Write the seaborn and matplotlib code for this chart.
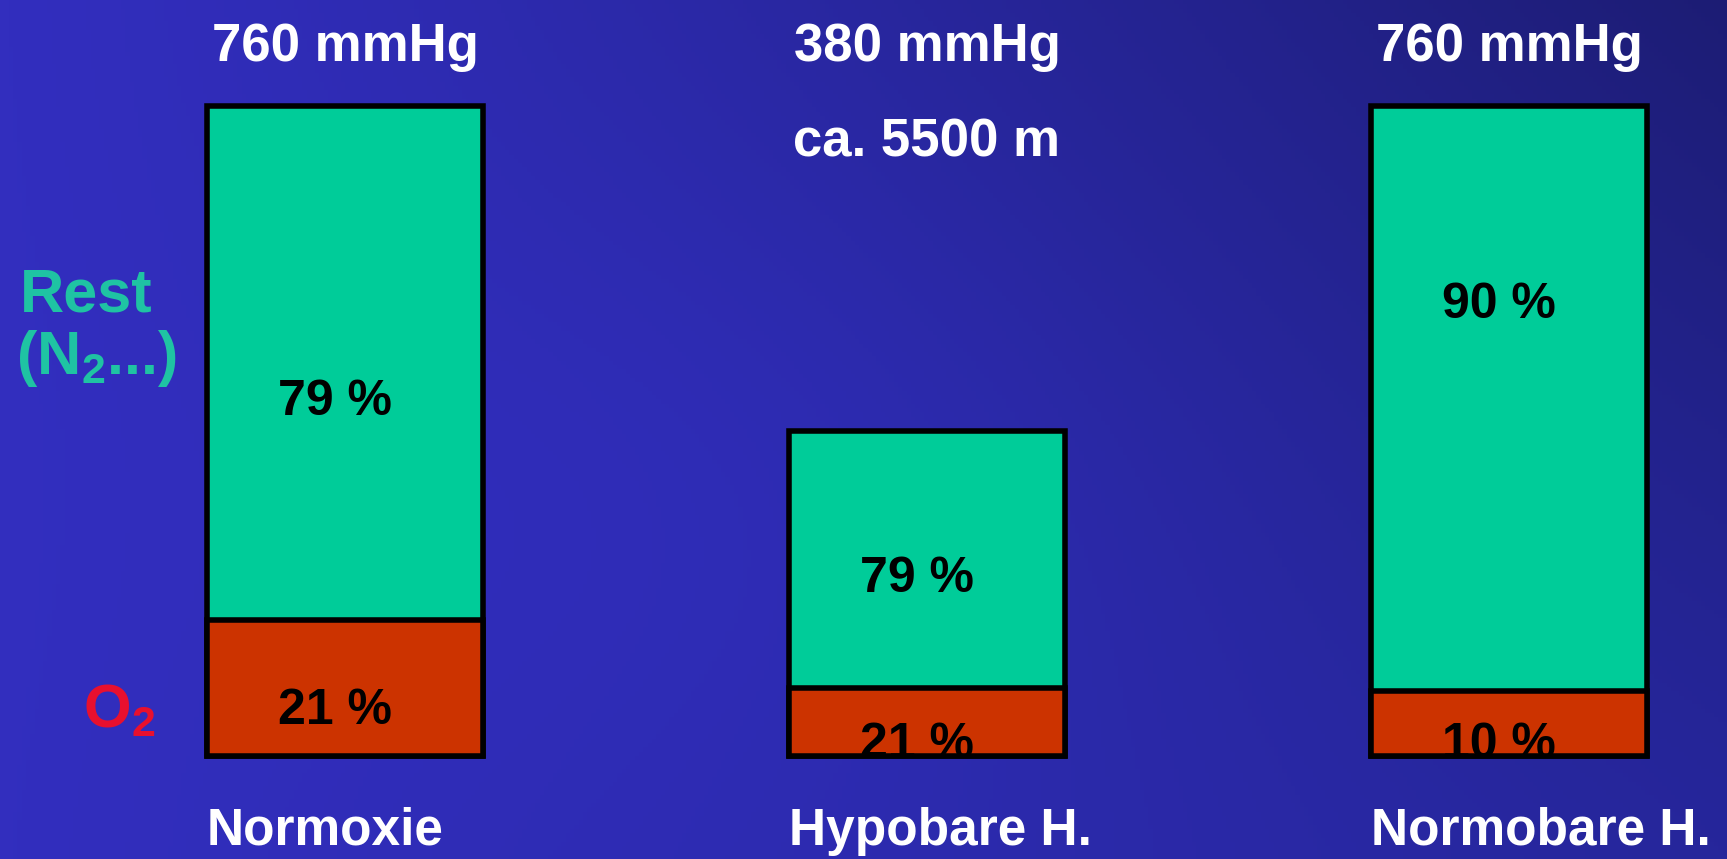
import numpy as np
import pandas as pd
import matplotlib
matplotlib.use("Agg")
import matplotlib.pyplot as plt
import seaborn as sns

# Gas composition of inspired air under three conditions
conditions = ["Normoxie", "Hypobare H.", "Normobare H."]
total_pressure = [760, 380, 760]          # barometric pressure, mmHg
o2_percent = [21, 21, 10]                 # oxygen fraction, %
rest_percent = [79, 79, 90]               # nitrogen and other gases, %
pressure_labels = ["760 mmHg", "380 mmHg", "760 mmHg"]
altitude_note = "ca. 5500 m"

GREEN = "#00CC99"
ORANGE = "#CC3300"
TEAL_TEXT = "#1FC3A3"
RED_TEXT = "#E8102E"

sns.set_theme(style="white")
plt.rcParams["font.family"] = ["Liberation Sans", "DejaVu Sans"]
plt.rcParams["mathtext.fontset"] = "custom"
plt.rcParams["mathtext.rm"] = "Liberation Sans:bold"
plt.rcParams["mathtext.it"] = "Liberation Sans:bold"
plt.rcParams["mathtext.bf"] = "Liberation Sans:bold"

df = pd.DataFrame({
    "condition": conditions,
    "total": total_pressure,
    "o2": [p * f / 100 for p, f in zip(total_pressure, o2_percent)],
})

fig = plt.figure(figsize=(17.27, 8.59), dpi=100)

# Blue slide-style background, darker towards the upper right
bg = fig.add_axes([0, 0, 1, 1])
h, w = 200, 400
yy, xx = np.mgrid[0:1:h * 1j, 0:1:w * 1j]   # yy: 0 top -> 1 bottom
left = np.array([50, 46, 190]) / 255
right = np.array([38, 38, 155]) / 255
base = left[None, None, :] * (1 - xx[..., None]) + right[None, None, :] * xx[..., None]
shade = 1 - 0.25 * (xx ** 1.5) * (1 - yy) ** 1.2
glow = 1 + 0.06 * np.exp(-((xx - 0.45) ** 2 / 0.08 + (yy - 0.55) ** 2 / 0.15))
img = np.clip(base * shade[..., None] * glow[..., None], 0, 1)
bg.imshow(img, extent=[0, 1, 0, 1], aspect="auto", origin="upper")
bg.axis("off")

ax = fig.add_axes([0, 0, 1, 1])
ax.patch.set_alpha(0)

bar_kw = dict(saturation=1, width=0.474, edgecolor="black", linewidth=4.0,
              errorbar=None, ax=ax)
sns.barplot(data=df, x="condition", y="total", color=GREEN, **bar_kw)
sns.barplot(data=df, x="condition", y="o2", color=ORANGE, **bar_kw)

ax.set_xlim(-0.5928, 2.3746)
ax.set_ylim(-120.4, 883.9)
ax.axis("off")

rest_bars = ax.patches[:3]
o2_bars = ax.patches[3:6]

txt_kw = dict(fontweight="bold", ha="center", va="baseline")

# Pressure headings and condition names
for i, lab in enumerate(pressure_labels):
    ax.text(i, 813.0, lab, color="white", fontsize=38, **txt_kw)
ax.text(1, 701.0, altitude_note, color="white", fontsize=38, **txt_kw)
for i, name in enumerate(conditions):
    ax.text(i - 0.237, -104.0, name, color="white", fontsize=37,
            fontweight="bold", ha="left", va="baseline")

# Percentage labels inside the segments (clipped to their segment)
rest_label_y = [398.7, 192.3, 512.1]
o2_label_y = [37.9, -2.3, -2.3]
for i in range(3):
    t = ax.text(i - 0.017, rest_label_y[i], f"{rest_percent[i]} %",
                color="black", fontsize=36, **txt_kw)
    t.set_clip_path(rest_bars[i])
    t = ax.text(i - 0.017, o2_label_y[i], f"{o2_percent[i]} %",
                color="black", fontsize=36, **txt_kw)
    t.set_clip_path(o2_bars[i])

# Segment legend on the left
ax.text(-0.558, 519.5, "Rest", color=TEAL_TEXT, fontsize=44,
        fontweight="bold", ha="left", va="baseline")
ax.text(-0.566, 446.6, r"(N$_2$...)", color=TEAL_TEXT, fontsize=44,
        fontweight="bold", ha="left", va="baseline")
ax.text(-0.450, 33.9, r"O$_2$", color=RED_TEXT, fontsize=44,
        fontweight="bold", ha="left", va="baseline")

fig.savefig("out.png", dpi=100)
